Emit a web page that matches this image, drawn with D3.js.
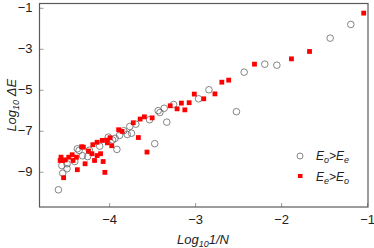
<!DOCTYPE html>
<html>
<head>
<meta charset="utf-8">
<script src="https://cdn.jsdelivr.net/npm/d3@7"></script>
<style>
  body { margin: 0; background: #fff; }
  svg text { font-family: "Liberation Sans", Arial, sans-serif; }
</style>
</head>
<body>
<div id="chart"></div>
<script>
// E_o > E_e (open circles): [log10 1/N, log10 dE]
const circleX = [-1.19, -1.43, -2.19, -2.05, -2.43, -2.84, -2.96, -2.52, -3.25, -3.33, -3.36, -3.41, -3.43,
  -3.53, -3.47, -3.69, -3.76, -3.74, -3.79, -3.83, -3.88, -3.93, -3.91, -4.01, -3.96, -4.11, -4.23, -4.25,
  -4.31, -4.35, -4.37, -4.40, -4.49, -4.49, -4.54, -4.55, -4.59];
const circleY = [-1.81, -2.48, -3.75, -3.80, -4.14, -5.00, -5.44, -6.07, -5.72, -6.58, -5.90, -6.11, -6.02,
  -6.46, -7.63, -6.68, -6.79, -7.12, -7.18, -7.00, -7.23, -7.37, -7.91, -7.31, -7.45, -7.75, -7.95, -8.26,
  -8.22, -7.96, -7.88, -8.50, -8.61, -8.85, -9.07, -8.70, -9.88];

// E_e > E_o (red squares)
const squareX = [-1.04, -1.67, -1.88, -2.31, -2.61, -2.69, -2.77, -2.90, -3.01, -3.07, -3.12, -3.16, -3.21,
  -3.29, -3.50, -3.59, -3.64, -3.72, -3.66, -3.56, -3.85, -3.89, -3.97, -4.02, -3.99, -4.03, -4.08, -4.14,
  -4.05, -4.07, -4.10, -4.14, -4.17, -4.19, -4.20, -4.24, -4.30, -4.32, -4.28, -4.37, -4.38, -4.43, -4.42,
  -4.47, -4.51, -4.53, -4.56, -4.57, -4.54];
const squareY = [-1.26, -3.13, -3.49, -3.75, -4.53, -4.63, -5.20, -5.44, -5.21, -5.63, -5.98, -5.65, -5.93,
  -5.78, -6.37, -6.32, -6.43, -6.61, -7.33, -8.04, -7.03, -6.95, -7.73, -7.59, -7.34, -7.46, -7.47, -7.56,
  -9.03, -8.50, -8.12, -8.21, -8.45, -7.68, -8.12, -7.99, -7.80, -7.78, -8.61, -8.90, -8.29, -8.17, -8.45,
  -8.29, -8.42, -9.29, -8.29, -8.45, -8.45];

const xTicks = [-4, -3, -2, -1];
const yTicks = [-1, -3, -5, -7, -9];

const width = 374, height = 248;
const margin = { top: 3.5, right: 6, bottom: 41, left: 39.5 };

const svg = d3.select("#chart").append("svg")
  .attr("width", width).attr("height", height);

const x = d3.scaleLinear().domain([-4.81, -0.99])
  .range([margin.left, width - margin.right]);
const y = d3.scaleLinear().domain([-10.72, -0.79])
  .range([height - margin.bottom, margin.top]);

const frameColor = "#5a5a5a";

// Axes (ticks point inward)
svg.append("g")
  .attr("transform", `translate(0,${height - margin.bottom})`)
  .call(d3.axisBottom(x).tickValues(xTicks).tickSizeInner(-4).tickSizeOuter(0).tickPadding(8)
    .tickFormat(d => "\u2212" + Math.abs(d)))
  .call(g => g.select(".domain").remove())
  .call(g => g.selectAll("line").attr("stroke", "#999"))
  .call(g => g.selectAll("text").attr("fill", "#222").style("font-size", "13px"));

svg.append("g")
  .attr("transform", `translate(${margin.left},0)`)
  .call(d3.axisLeft(y).tickValues(yTicks).tickSizeInner(-4).tickSizeOuter(0).tickPadding(7)
    .tickFormat(d => "\u2212" + Math.abs(d)))
  .call(g => g.select(".domain").remove())
  .call(g => g.selectAll("line").attr("stroke", "#999"))
  .call(g => g.selectAll("text").attr("fill", "#222").style("font-size", "13px"));

// Frame
svg.append("rect")
  .attr("x", margin.left).attr("y", margin.top)
  .attr("width", width - margin.left - margin.right)
  .attr("height", height - margin.top - margin.bottom)
  .attr("fill", "none").attr("stroke", frameColor).attr("stroke-width", 1.2);

// Axis titles
const xt = svg.append("text")
  .attr("x", 203).attr("y", 244)
  .attr("text-anchor", "middle").style("font-size", "13px").style("font-style", "italic")
  .attr("fill", "#222");
xt.append("tspan").text("Log");
xt.append("tspan").attr("dy", 3).style("font-size", "9px").text("10");
xt.append("tspan").attr("dy", -3).text("1/N");

const yt = svg.append("text")
  .attr("transform", `translate(16,${(margin.top + height - margin.bottom) / 2}) rotate(-90)`)
  .attr("text-anchor", "middle").style("font-size", "13px").style("font-style", "italic")
  .attr("fill", "#222");
yt.append("tspan").text("Log");
yt.append("tspan").attr("dy", 3).style("font-size", "9px").text("10");
yt.append("tspan").attr("dy", -3).text(" \u0394E");

// Points
svg.append("g").selectAll("circle")
  .data(d3.zip(circleX, circleY))
  .join("circle")
  .attr("cx", d => x(d[0])).attr("cy", d => y(d[1]))
  .attr("r", 3.3)
  .attr("fill", "none").attr("stroke", "#666").attr("stroke-width", 0.8);

const sq = 4.8;
svg.append("g").selectAll("rect")
  .data(d3.zip(squareX, squareY))
  .join("rect")
  .attr("x", d => x(d[0]) - sq / 2).attr("y", d => y(d[1]) - sq / 2)
  .attr("width", sq).attr("height", sq)
  .attr("fill", "#ff0000");

// Legend
const legend = svg.append("g");
legend.append("circle").attr("cx", 300).attr("cy", 156).attr("r", 3)
  .attr("fill", "none").attr("stroke", "#666").attr("stroke-width", 0.8);
legend.append("rect").attr("x", 298).attr("y", 174).attr("width", 4.5).attr("height", 4)
  .attr("fill", "#ff0000");

function legendLabel(yPos, a, b) {
  const t = legend.append("text").attr("x", 316).attr("y", yPos)
    .style("font-size", "12px").style("font-style", "italic").attr("fill", "#222");
  t.append("tspan").text("E");
  t.append("tspan").attr("dy", 3).style("font-size", "9px").text(a);
  t.append("tspan").attr("dy", -3).text(">E");
  t.append("tspan").attr("dy", 3).style("font-size", "9px").text(b);
}
legendLabel(160, "o", "e");
legendLabel(181, "e", "o");
</script>
</body>
</html>
